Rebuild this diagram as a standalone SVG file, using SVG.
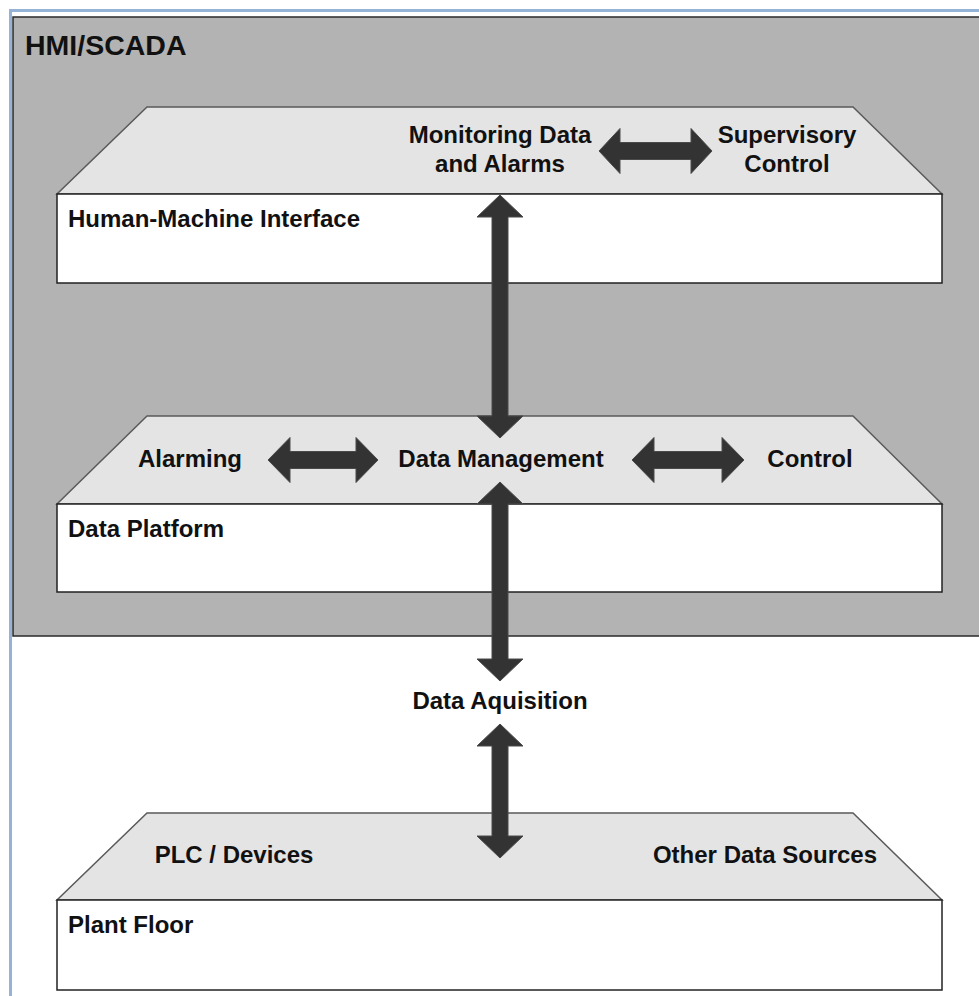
<svg xmlns="http://www.w3.org/2000/svg" width="979" height="996" viewBox="0 0 979 996">
  <defs>
    <style>
      .lbl { font-family: "Liberation Sans", Arial, sans-serif; font-weight: bold; font-size: 24px; fill: #111; }
      .mid { text-anchor: middle; }
      .title { font-family: "Liberation Sans", Arial, sans-serif; font-weight: bold; font-size: 28.5px; fill: #111; }
      .deck { fill: #e4e4e4; stroke: #5a5a5a; stroke-width: 1.5; stroke-linejoin: miter; }
      .base { fill: #ffffff; stroke: #222; stroke-width: 1.5; }
      .arrow { fill: #333333; stroke: #4a4a4a; stroke-width: 1; stroke-linejoin: miter; }
    </style>
  </defs>

  <!-- page frame -->
  <rect x="0" y="0" width="979" height="996" fill="#ffffff"/>
  <path d="M10.5,996 L10.5,10.5 L979,10.5" fill="none" stroke="#95b3d7" stroke-width="3"/>

  <!-- HMI/SCADA container -->
  <g id="hmi-scada">
    <rect x="13" y="17" width="970" height="619" fill="#b3b3b3" stroke="#2a2a2a" stroke-width="1.5"/>
    <text class="title" x="25" y="55">HMI/SCADA</text>
  </g>

  <!-- Human-Machine Interface layer -->
  <g id="hmi">
    <path class="deck" d="M147,107 L853,107 L942,194 L57,194 Z"/>
    <rect class="base" x="57" y="194" width="885" height="89"/>
    <text class="lbl mid" x="500" y="143">Monitoring Data</text>
    <text class="lbl mid" x="500" y="172">and Alarms</text>
    <text class="lbl mid" x="787" y="143">Supervisory</text>
    <text class="lbl mid" x="787" y="172">Control</text>
    <text class="lbl" x="68" y="227">Human-Machine Interface</text>
  </g>

  <!-- Data Platform layer -->
  <g id="data-platform">
    <path class="deck" d="M147,416 L853,416 L942,504 L57,504 Z"/>
    <rect class="base" x="57" y="504" width="885" height="88"/>
    <text class="lbl mid" x="190" y="467">Alarming</text>
    <text class="lbl mid" x="501" y="467">Data Management</text>
    <text class="lbl mid" x="810" y="467">Control</text>
    <text class="lbl" x="68" y="537">Data Platform</text>
  </g>

  <!-- Data acquisition label -->
  <g id="data-acquisition">
    <text class="lbl mid" x="500" y="709">Data Aquisition</text>
  </g>

  <!-- Plant Floor layer -->
  <g id="plant-floor">
    <path class="deck" d="M147,813 L853,813 L942,900 L57,900 Z"/>
    <rect class="base" x="57" y="900" width="885" height="90"/>
    <text class="lbl mid" x="234" y="863">PLC / Devices</text>
    <text class="lbl mid" x="765" y="863">Other Data Sources</text>
    <text class="lbl" x="68" y="933">Plant Floor</text>
  </g>

  <!-- connectors: block double arrows -->
  <g id="connectors">
    <!-- Monitoring Data and Alarms <-> Supervisory Control -->
    <polygon class="arrow" points="599,151 620,128.5 620,142.5 691,142.5 691,128.5 712,151 691,173.5 691,159.5 620,159.5 620,173.5"/>
    <!-- HMI <-> Data Management -->
    <polygon class="arrow" points="500,195 523,217 508,217 508,416 523,416 500,438 477,416 492,416 492,217 477,217"/>
    <!-- Alarming <-> Data Management -->
    <polygon class="arrow" points="268,460 290,437.5 290,451.5 356,451.5 356,437.5 378,460 356,482.5 356,468.5 290,468.5 290,482.5"/>
    <!-- Data Management <-> Control -->
    <polygon class="arrow" points="632,460 654,437.5 654,451.5 722,451.5 722,437.5 744,460 722,482.5 722,468.5 654,468.5 654,482.5"/>
    <!-- Data Management <-> Data Aquisition -->
    <polygon class="arrow" points="500,482 523,504 508,504 508,659 523,659 500,681 477,659 492,659 492,504 477,504"/>
    <!-- Data Aquisition <-> Plant Floor -->
    <polygon class="arrow" points="500,724 523,746 508,746 508,836 523,836 500,858 477,836 492,836 492,746 477,746"/>
  </g>
</svg>
